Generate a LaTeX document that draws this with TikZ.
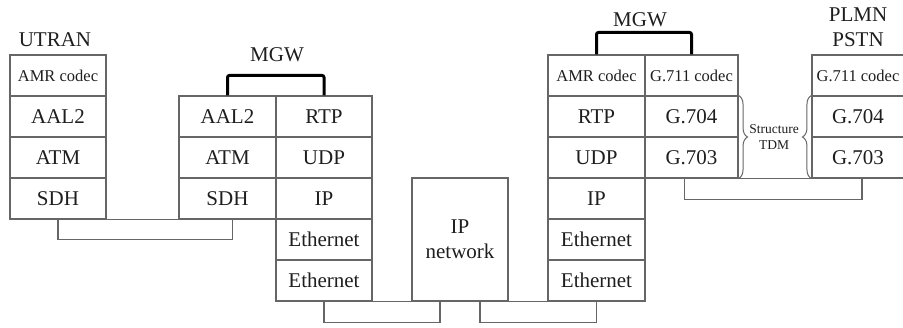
\documentclass[tikz,border=0pt]{standalone}
\usepackage{fontspec}
\setmainfont{Liberation Serif}
\usetikzlibrary{decorations.pathreplacing,calc}
\definecolor{linegray}{HTML}{666666}
\definecolor{ink}{HTML}{1E1E1E}
\begin{document}
\begin{tikzpicture}[x=1pt,y=-1pt,
  cell/.style={draw=linegray, line width=1.1pt, inner sep=0pt,
    minimum height=41pt, font=\fontsize{21}{25}\selectfont, text=ink},
  small/.style={font=\fontsize{16.5}{20}\selectfont},
  colA/.style={minimum width=96pt},
  colB/.style={minimum width=97pt},
  colC/.style={minimum width=93pt},
  title/.style={font=\fontsize{21}{25}\selectfont, text=ink, align=center, inner sep=0pt},
  wire/.style={draw=linegray, line width=1.1pt},
  link/.style={draw=black, line width=3pt, rounded corners=2pt},
  curly/.style={draw=linegray, line width=1pt, decorate, decoration={brace, amplitude=9pt}}]
\useasboundingbox (0,0) rectangle (903,327);

% UTRAN stack
\node[title] (utran) at (55,40) {UTRAN};
\node[cell, colA, small] (u1) at (58,75.5) {AMR codec};
\node[cell, colA] (u2) at (58,116.5) {AAL2};
\node[cell, colA] (u3) at (58,157.5) {ATM};
\node[cell, colA] (u4) at (58,198.5) {SDH};

% first media gateway
\node[title] (mgw1) at (277,55) {MGW};
\node[cell, colB] (ma1) at (227.5,116.5) {AAL2};
\node[cell, colB] (ma2) at (227.5,157.5) {ATM};
\node[cell, colB] (ma3) at (227.5,198.5) {SDH};
\node[cell, colA] (mb1) at (324,116.5) {RTP};
\node[cell, colA] (mb2) at (324,157.5) {UDP};
\node[cell, colA] (mb3) at (324,198.5) {IP};
\node[cell, colA] (mb4) at (324,239.5) {Ethernet};
\node[cell, colA] (mb5) at (324,280.5) {Ethernet};

% IP network
\node[cell, colA, minimum height=123pt, align=center] (ipn) at (460,239.5) {IP\\network};

% second media gateway
\node[title] (mgw2) at (640,20) {MGW};
\node[cell, colB, small] (na1) at (596.5,75.5) {AMR codec};
\node[cell, colB] (na2) at (596.5,116.5) {RTP};
\node[cell, colB] (na3) at (596.5,157.5) {UDP};
\node[cell, colB] (na4) at (596.5,198.5) {IP};
\node[cell, colB] (na5) at (596.5,239.5) {Ethernet};
\node[cell, colB] (na6) at (596.5,280.5) {Ethernet};
\node[cell, colC, small] (nb1) at (691.5,75.5) {G.711 codec};
\node[cell, colC] (nb2) at (691.5,116.5) {G.704};
\node[cell, colC] (nb3) at (691.5,157.5) {G.703};

% PLMN / PSTN stack
\node[title] (plmn) at (858,27.5) {PLMN\\PSTN};
\node[cell, minimum width=92pt, small] (p1) at (858,75.5) {G.711 codec};
\node[cell, minimum width=92pt] (p2) at (858,116.5) {G.704};
\node[cell, minimum width=92pt] (p3) at (858,157.5) {G.703};

% structured TDM link
\draw[curly] (nb2.north east) -- (nb3.south east);
\draw[curly] (p3.south west) -- (p2.north west);
\node[font=\fontsize{13.5}{16}\selectfont, text=ink, align=center, inner sep=0pt] (tdm) at (774,137) {Structure\\TDM};

% shared base lines
\draw[wire] (u4.south east) -- (ma3.south west);
\draw[wire] (mb5.south east) -- (ipn.south west);
\draw[wire] (ipn.south east) -- (na6.south west);
\draw[wire] (nb3.south east) -- (p3.south west);

% physical connections
\draw[wire] (u4.south) -- ++(0,20) -| ($(ma3.south)+(5,0)$);
\draw[wire] (mb5.south) -- ++(0,21) -| ($(ipn.south)+(-20,0)$);
\draw[wire] ($(ipn.south)+(20,0)$) -- ++(0,21) -| (na6.south);
\draw[wire] ($(nb3.south)+(-7,0)$) -- ++(0,21) -| ($(p3.south)+(4,0)$);

% interworking inside the gateways
\draw[link] (ma1.north) -- ++(0,-20) -| (mb1.north);
\draw[link] (na1.north) -- ++(0,-22) -| (nb1.north);
\end{tikzpicture}
\end{document}
